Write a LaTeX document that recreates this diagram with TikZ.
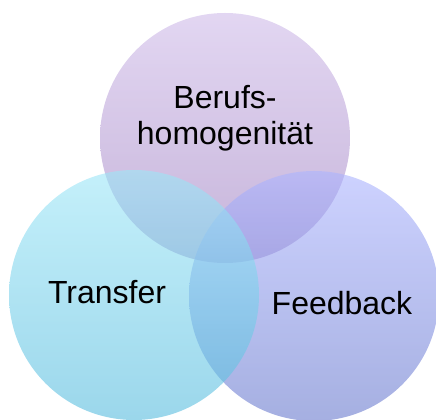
\documentclass[tikz,border=0pt]{standalone}
\usepackage{fontspec}
\setmainfont{Liberation Sans}
\usepackage{tikz}
\usetikzlibrary{positioning}
\definecolor{lilactop}{RGB}{207,187,233}
\definecolor{lilacbot}{RGB}{160,130,193}
\definecolor{cyantop}{RGB}{157,230,247}
\definecolor{cyanbot}{RGB}{88,188,222}
\definecolor{bluetop}{RGB}{172,180,255}
\definecolor{bluebot}{RGB}{105,122,205}

\begin{document}
\begin{tikzpicture}[
        x=0.75pt, y=-0.75pt,
        ring/.style={circle, draw=none, minimum size=187.5pt, inner sep=0pt, fill opacity=0.6},
        label/.style={font=\fontsize{24}{27}\selectfont, align=center, text=black}
    ]
        \useasboundingbox (0,0) rectangle (436,420);
        \node [ring, top color=lilactop, bottom color=lilacbot] (beruf) at (225,138) {};
        \node [ring, top color=bluetop, bottom color=bluebot] (feed) at (314,296) {};
        \node [ring, top color=cyantop, bottom color=cyanbot] (trans) at (134,295) {};

        \node [label] (berufT) at (225,118) {Berufs-\\homogenität};
        \node [label] (transT) at (107,292) {Transfer};
        \node [label] (feedT) at (342,303) {Feedback};
    \end{tikzpicture}
\end{document}
